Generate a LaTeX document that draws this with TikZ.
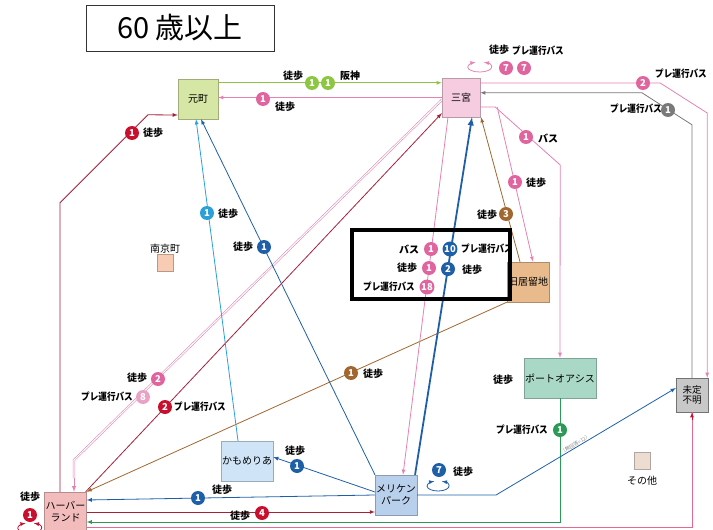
\documentclass[tikz,border=0pt]{standalone}
\usepackage{fontspec}
\setmainfont{Noto Sans CJK JP}
\usepackage{tikz, graphicx}
\usetikzlibrary{arrows}
\definecolor{gruenA}{HTML}{8DC641}
\definecolor{gruenB}{HTML}{2A9A55}
\definecolor{rosa}{HTML}{E482B2}
\definecolor{rosaK}{HTML}{E0649E}
\definecolor{rosaH}{HTML}{E9A2C6}
\definecolor{rot}{HTML}{A82038}
\definecolor{rotK}{HTML}{C8102E}
\definecolor{braun}{HTML}{A2672F}
\definecolor{dblau}{HTML}{1E5FA8}
\definecolor{hblau}{HTML}{2A9FD8}
\definecolor{grau}{HTML}{7A7A7A}
% Fuellfarben
\definecolor{fMoto}{HTML}{D6E6A4}
\definecolor{fSanno}{HTML}{F6CDE0}
\definecolor{fKyo}{HTML}{E9BB8C}
\definecolor{fPort}{HTML}{A9D9C6}
\definecolor{fMitei}{HTML}{C8C8C8}
\definecolor{fKamo}{HTML}{CFE5F7}
\definecolor{fMeri}{HTML}{B9D0EC}
\definecolor{fHarb}{HTML}{F3BCBC}
\definecolor{fNan}{HTML}{F8CBB4}
\definecolor{fSono}{HTML}{EDDCD2}
\newcommand{\pbus}{\scalebox{0.86}[1]{プレ運行バス}}

\begin{document}
\begin{tikzpicture}[x=1pt, y=-1pt, >=latex,
  ort/.style={draw=#1!75!black, fill=#1, minimum width=40pt, minimum height=40pt,
    inner sep=1pt, align=center, font=\fontsize{10}{11}\selectfont},
  nr/.style={circle, fill=#1, text=white, inner sep=0.5pt, minimum size=14pt,
    font=\bfseries\fontsize{9.5}{10}\selectfont},
  txt/.style={inner sep=1pt, font=\bfseries\fontsize{10}{10}\selectfont},
  linie/.style={draw=#1, line width=0.8pt}]
  \useasboundingbox (0,0) rectangle (713,530);
  %Titel
  \node[draw=black!80, minimum width=188pt, minimum height=46pt,
    font=\fontsize{29}{29}\selectfont] (titel) at (180,28) {60 歳以上};
  %Knoten zeichnen
  \node[ort=fMoto] (moto) at (198,99) {元町};
  \node[ort=fSanno, minimum width=38pt, minimum height=39pt] (sanno) at (461,97.5) {三宮};
  \node[ort=fKyo] (kyoryu) at (528,282) {旧居留地};
  \node[ort=fPort] (port) at (560,378) {ポートオアシス};
  \node[ort=fMitei, draw=black!55, minimum width=32pt, minimum height=34pt, font=\fontsize{9.5}{10.5}\selectfont] (mitei) at (692,395) {未定\\不明};
  \node[ort=fKamo] (kamome) at (247,461) {かもめりあ};
  \node[ort=fMeri, font=\fontsize{10}{12}\selectfont] (meriken) at (396,495) {メリケン\\パーク};
  \node[ort=fHarb, minimum width=41pt, font=\fontsize{10}{12}\selectfont] (harbor) at (65.5,512) {ハーバー\\ランド};
  \node[ort=fNan, minimum width=16pt, minimum height=17pt] (nankin) at (165,263) {};
  \node[txt, font=\fontsize{10}{10}\selectfont] (nankinT) at (165,249) {南京町};
  \node[ort=fSono, minimum width=16pt, minimum height=17pt] (sonota) at (642,461) {};
  \node[txt, font=\fontsize{10}{10}\selectfont] (sonotaT) at (642,481) {その他};
  % Verbindungen
  \draw[->, linie=gruenA] ([yshift=-4pt]moto.north east) coordinate (g1) -- (g1 -| sanno.west);
  \draw[->, linie=rosa] (sanno.west) -- (moto.east |- sanno.west);
  \draw[->, linie=rosa] ([yshift=14.5pt]sanno.east) -- ++(180,0) -- ++(47,30) -- ([xshift=-1pt]mitei.north east);
  \draw[->, linie=grau] (mitei.north) -- ++(0,-253) -- ++(-50,-32) coordinate (g2) -- (g2 -| sanno.east);
  \draw[->, linie=rosa] ([yshift=-9.5pt]sanno.east) -- ++(15,0) -- ++(65,58) -- (port.north);
  \draw[->, linie=rosa] ([yshift=-9.5pt,xshift=17pt]sanno.east) -- ([xshift=5pt]kyoryu.north);
  \draw[->, linie=braun] ([xshift=-8pt]kyoryu.north) -- ([xshift=20pt]sanno.south);
  \draw[->, linie=braun] (kyoryu.south west) -- (harbor.north east);
  \draw[->, linie=dblau, line width=1.8pt] ([xshift=-2pt]meriken.north east) -- ([xshift=11pt]sanno.south);
  \draw[->, linie=rosa] ([xshift=-13pt]sanno.south) -- ([xshift=7pt]meriken.north);
  \draw[->, linie=rot] ([xshift=-1pt]harbor.north east) -- ([yshift=4pt]sanno.south west);
  \draw[rosa, line width=0.55pt, double=white, double distance=1.1pt]
    ([yshift=-2.5pt]sanno.west) -- (74,460) -- (74,478) coordinate (g3);
  \draw[->, linie=rosa, line width=1pt] (g3) -- ([xshift=8.5pt]harbor.north);
  \draw[->, linie=rot] ([xshift=-5.5pt]harbor.north) -- ++(0,-289) -- ++(88,-88) -- ([yshift=-16pt]moto.west);
  \draw[->, linie=hblau] ([xshift=-9pt]kamome.north) -- ([xshift=-2pt]moto.south);
  \draw[->, linie=dblau] (meriken.north west) -- ([xshift=3pt]moto.south);
  \draw[->, linie=dblau] ([yshift=3pt]meriken.west) -- ([yshift=4pt]kamome.east);
  \draw[->, linie=dblau] (meriken.west) -- ([yshift=12pt]harbor.east);
  \draw[->, linie=rot] (harbor.east) -- (harbor.east -| meriken.west);
  \draw[->, linie=gruenB] (port.south) |- ([yshift=-10pt]harbor.east);
  \draw[linie=rosa!80!red] ([yshift=-15pt]harbor.east) -| (mitei.south);
  \draw[->, rotK, line width=0.8pt] ([yshift=-8pt]mitei.south) -- (mitei.south);
  \draw[->, linie=dblau] (meriken.east) -- ++(79,0) -- ([yshift=7pt]mitei.west)
    node[pos=.45, sloped, above, inner sep=0.3pt, text=black!45, font=\fontsize{5}{5}\selectfont] (kA) {（無回答=12）};
  %Schleifen
  \draw[<->, linie=rosa] (483.8,62.3) arc[start angle=70, end angle=-250, x radius=12pt, y radius=5pt];
  \draw[<->, linie=dblau] (441.8,481.3) arc[start angle=70, end angle=-250, x radius=11pt, y radius=5pt];
  \draw[<->, linie=rotK] (33.8,523.3) arc[start angle=70, end angle=-250, x radius=12pt, y radius=5pt];
  %Beschriftung
  \foreach \x/\y/\t [count=\i] in {293/76/徒歩, 350/76/阪神, 285/107/徒歩, 153/133/徒歩,
      499/50/徒歩, 538/51/\pbus, 681/74/\pbus, 636/109/\pbus, 548/138/バス, 536/183/徒歩,
      487/215/徒歩, 228/214/徒歩, 243/247/徒歩, 409/249/バス, 407/268/徒歩, 389/287/\pbus,
      487/249/\pbus, 472/270/徒歩, 373/374/徒歩, 137/378/徒歩, 107/397/\pbus, 200/407/\pbus,
      503/380/徒歩, 522/430/\pbus, 295/451/徒歩, 463/472/徒歩, 222/490/徒歩, 240/516/徒歩,
      30/497/徒歩}
    \node[txt] (t\i) at (\x,\y) {\t};
  \foreach \x/\y/\f/\n [count=\i] in {312/83/gruenA/1, 328/83/gruenA/1, 263/99/rosaK/1,
      506/68/rosaK/7, 524/68/rosaK/7, 643/83/rosaK/2, 668/110/grau/1, 132/133/rotK/1,
      526/137/rosaK/1, 515/182/rosaK/1, 506/214/braun/3, 207/213/hblau/1, 264/247/dblau/1,
      431/249/rosaK/1, 429/268/rosaK/1, 427/287/rosaK/18, 450/249/dblau/10, 448/269/dblau/2,
      351/373/braun/1, 158/379/rosaK/2, 143/397/rosaH/8, 165/407/rotK/2, 560/430/gruenB/1,
      297/466/dblau/1, 439/470/dblau/7, 198/498/dblau/1, 262/513/rotK/4, 30/515/rotK/1}
    \node[nr=\f] (n\i) at (\x,\y) {\n};
  %Rahmen
  \draw[line width=4.5pt] (352,230) rectangle (510,299);
\end{tikzpicture}
\end{document}
